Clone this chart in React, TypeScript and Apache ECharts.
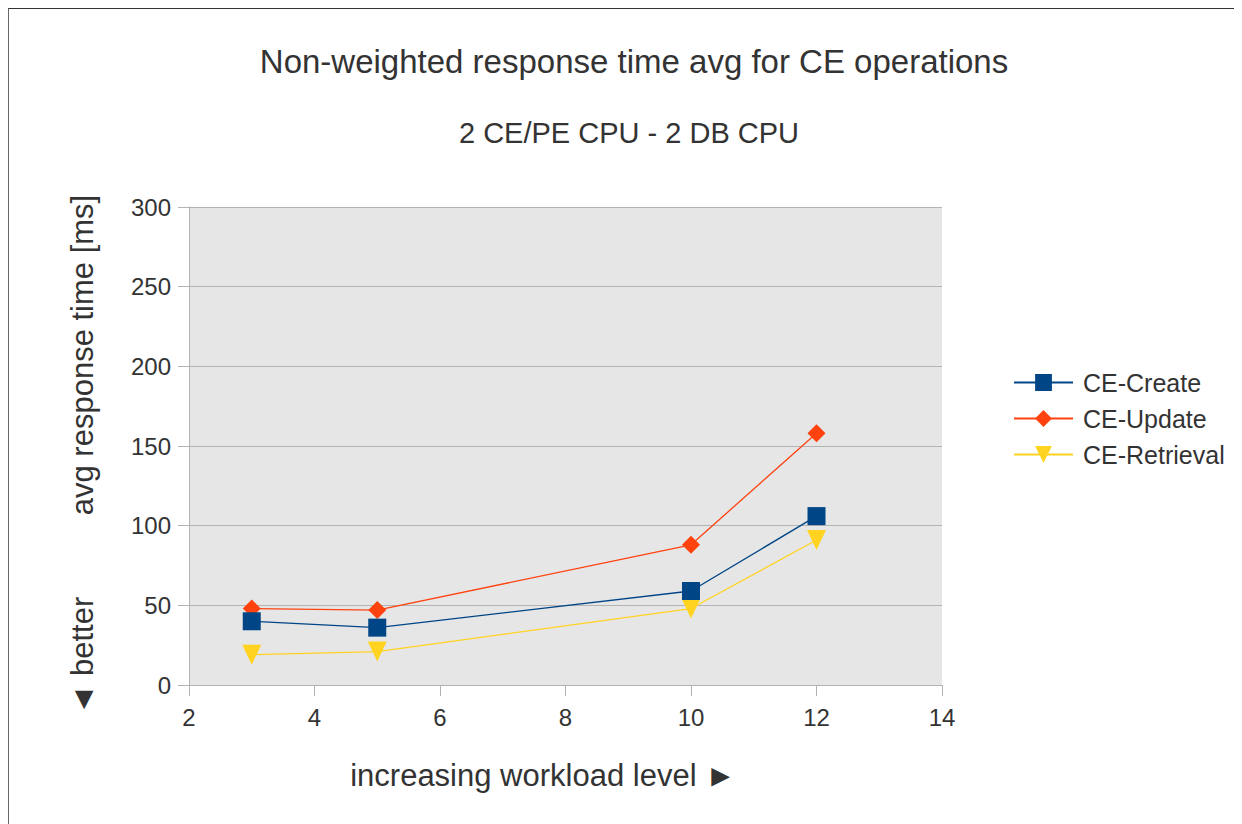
import React, { useEffect, useRef } from "react";
import * as echarts from "echarts";

const xValues = [3, 5, 10, 12];
const createValues = [40, 36, 59, 106];
const updateValues = [48, 47, 88, 158];
const retrievalValues = [19, 21, 48, 91];
const seriesNames = ["CE-Create", "CE-Update", "CE-Retrieval"];
const FONT = "'Liberation Sans', Arial, sans-serif";

export default function App() {
  const ref = useRef<HTMLDivElement>(null);
  useEffect(() => {
    const chart = echarts.init(ref.current!, null, { renderer: "svg" });
    const pts = (vals: number[]) => xValues.map((x, i) => [x, vals[i]]);
    chart.setOption({
      animation: false,
      backgroundColor: "#ffffff",
      title: [
        {
          text: "Non-weighted response time avg for CE operations",
          left: 620,
          top: 31,
          textAlign: "center",
          textStyle: { fontFamily: FONT, fontSize: 33, fontWeight: "normal", color: "#333333" },
        },
        {
          text: "2 CE/PE CPU - 2 DB CPU",
          left: 615,
          top: 104,
          textAlign: "center",
          textStyle: { fontFamily: FONT, fontSize: 29, fontWeight: "normal", color: "#333333" },
        },
      ],
      legend: {
        orient: "vertical",
        left: 999,
        top: 356,
        itemGap: 11,
        itemWidth: 59,
        itemHeight: 21,
        textStyle: { fontFamily: FONT, fontSize: 25, color: "#333333", padding: [0, 0, 0, 5] },
        data: seriesNames,
      },
      grid: { left: 180, top: 198, right: 300, bottom: 139, backgroundColor: "#e6e6e6", show: true, borderWidth: 0 },
      xAxis: {
        type: "value",
        min: 2,
        max: 14,
        interval: 2,
        axisLine: { show: true, lineStyle: { color: "#b3b3b3", width: 1 } },
        axisTick: { show: true, length: 11, lineStyle: { color: "#b3b3b3" } },
        splitLine: { show: false },
        axisLabel: { fontFamily: FONT, fontSize: 24, color: "#333333", margin: 20 },
      },
      yAxis: {
        type: "value",
        min: 0,
        max: 300,
        interval: 50,
        axisLine: { show: true, lineStyle: { color: "#b3b3b3", width: 1 } },
        axisTick: { show: true, length: 11, lineStyle: { color: "#b3b3b3" } },
        splitLine: { show: true, lineStyle: { color: "#b3b3b3", width: 1 } },
        axisLabel: { fontFamily: FONT, fontSize: 24, color: "#333333", margin: 18 },
      },
      graphic: [
        {
          type: "text",
          x: 73,
          y: 346,
          rotation: Math.PI / 2,
          style: {
            text: "avg response time [ms]",
            fontFamily: FONT,
            fontSize: 31,
            fill: "#333333",
            align: "center",
            verticalAlign: "middle",
          },
        },
        {
          type: "text",
          x: 73,
          y: 647,
          rotation: Math.PI / 2,
          style: {
            text: "◄ better",
            fontFamily: FONT,
            fontSize: 31,
            fill: "#333333",
            align: "center",
            verticalAlign: "middle",
          },
        },
        {
          type: "text",
          x: 534,
          y: 766,
          style: {
            text: "increasing workload level ►",
            fontFamily: FONT,
            fontSize: 31,
            fill: "#333333",
            align: "center",
            verticalAlign: "middle",
          },
        },
      ],
      series: [
        {
          name: seriesNames[0],
          type: "line",
          data: pts(createValues),
          symbol: "rect",
          symbolSize: 18,
          lineStyle: { color: "#004586", width: 1.3 },
          itemStyle: { color: "#004586" },
          z: 3,
        },
        {
          name: seriesNames[1],
          type: "line",
          data: pts(updateValues),
          symbol: "diamond",
          symbolSize: 18,
          lineStyle: { color: "#ff420e", width: 1.3 },
          itemStyle: { color: "#ff420e" },
          z: 2,
        },
        {
          name: seriesNames[2],
          type: "line",
          data: pts(retrievalValues),
          symbol: "triangle",
          symbolRotate: 180,
          symbolSize: [19, 20],
          lineStyle: { color: "#ffd320", width: 1.3 },
          itemStyle: { color: "#ffd320" },
          z: 1,
        },
      ],
    });
    return () => chart.dispose();
  }, []);
  return (
    <div
      ref={ref}
      style={{
        width: 1234,
        height: 816,
        borderTop: "1px solid #333333",
        borderLeft: "1px solid #666666",
        boxSizing: "border-box",
      }}
    />
  );
}
